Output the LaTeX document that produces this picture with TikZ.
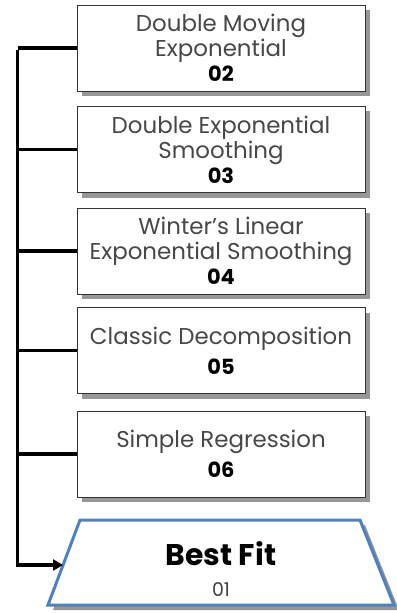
\documentclass[tikz,border=0pt]{standalone}
\usepackage{fontspec}
\setmainfont{Poppins}
\usetikzlibrary{shadows,arrows.meta}
\definecolor{fitblue}{HTML}{4F81BD}
\newcommand\numtxt[1]{{\fontsize{21}{25}\selectfont\bfseries\color{black} #1}}
\begin{document}
\begin{tikzpicture}[x=1bp,y=-1bp,
  boxshadow/.style={drop shadow={shadow xshift=5bp, shadow yshift=-5bp, fill=black!45, opacity=0.9}},
  methodbox/.style={draw=black!80, line width=0.8bp, fill=white,
    minimum width=288bp, minimum height=86bp, inner sep=0pt, align=center,
    font=\fontsize{23}{25}\selectfont, text=black!72, boxshadow},
  fitshape/.style={draw=fitblue, line width=3bp, fill=white, line join=miter, boxshadow},
  fittitle/.style={font=\fontsize{30}{32}\selectfont\bfseries, text=black, inner sep=0pt},
  fitnum/.style={font=\fontsize{19}{21}\selectfont, text=black!75, inner sep=0pt},
  conn/.style={line width=3.8bp, black},
  arrowconn/.style={conn, -{Triangle[length=10bp,width=11bp]}}
]
\useasboundingbox (0,0) rectangle (396,613);
\node[methodbox] (m2) at (221,48) {Double Moving\\Exponential\\\numtxt{02}};
\node[methodbox] (m3) at (221,149.5) {Double Exponential\\Smoothing\\\numtxt{03}};
\node[methodbox] (m4) at (221,251) {Winter's Linear\\Exponential Smoothing\\\numtxt{04}};
\node[methodbox] (m5) at (221,350.5) {Classic Decomposition\\[5bp]\numtxt{05}};
\node[methodbox] (m6) at (221,454) {Simple Regression\\[5bp]\numtxt{06}};
\draw[fitshape] (80,520) -- (360,520) -- (394,605) -- (48,605) -- cycle;
\node[fittitle] (fit) at (221,554) {Best Fit};
\node[fitnum] (fitno) at (221,590) {01};
\coordinate (fitin) at (63,565);
\draw[conn] (m2.west) -- ++(-59,0) coordinate (top);
\draw[arrowconn] ([yshift=-1.9bp]top) |- (fitin);
\draw[conn] (m3.west) -- (m3.west -| top);
\draw[conn] (m4.west) -- (m4.west -| top);
\draw[conn] (m5.west) -- (m5.west -| top);
\draw[conn] (m6.west) -- (m6.west -| top);
\end{tikzpicture}
\end{document}
